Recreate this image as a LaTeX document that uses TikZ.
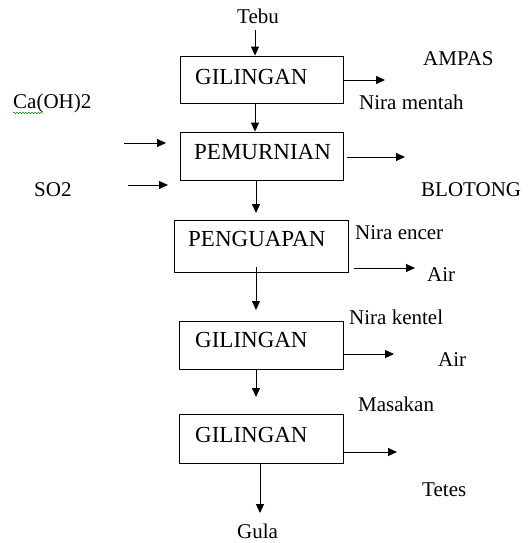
\documentclass[tikz,border=0pt]{standalone}
\usepackage{fontspec}
\setmainfont{Liberation Serif}
\usetikzlibrary{arrows.meta,decorations.pathmorphing}
\begin{document}
\begin{tikzpicture}[x=1pt,y=-1pt,
  box/.style={draw,line width=0.8pt,inner sep=0pt,minimum width=#1},
  boxtxt/.style={anchor=base west,inner sep=0pt,font=\fontsize{23}{27}\selectfont},
  lbl/.style={anchor=base west,inner sep=0pt,font=\fontsize{21}{25}\selectfont},
  arr/.style={line width=0.9pt,-{Triangle[length=9pt,width=8pt]}}]
\useasboundingbox (0,0) rectangle (530,543);
% boxes
\node[box=163pt,minimum height=47pt] (b1) at (261.5,79.5) {};
\node[box=163pt,minimum height=48pt] (b2) at (261.5,156) {};
\node[box=174pt,minimum height=52pt] (b3) at (261,246) {};
\node[box=164pt,minimum height=48pt] (b4) at (261,345) {};
\node[box=164pt,minimum height=49pt] (b5) at (261,438.5) {};
\node[boxtxt] (t1) at (195,84) {GILINGAN};
\node[boxtxt] (t2) at (194,159.3) {PEMURNIAN};
\node[boxtxt] (t3) at (188,246.7) {PENGUAPAN};
\node[boxtxt] (t4) at (195,347.7) {GILINGAN};
\node[boxtxt] (t5) at (195,442.3) {GILINGAN};
% labels
\node[lbl] (tebu) at (237,23.3) {Tebu};
\node[lbl] (ampas) at (423,66) {AMPAS};
\node[lbl] (niram) at (359,109) {Nira mentah};
\node[lbl] (caoh) at (13,108.7) {Ca(OH)2};
\node[lbl] (so2) at (34,196.7) {SO2};
\node[lbl] (blotong) at (421,196.7) {BLOTONG};
\node[lbl] (nirae) at (355,239) {Nira encer};
\node[lbl] (air1) at (427,281) {Air};
\node[lbl] (nirak) at (349,324) {Nira kentel};
\node[lbl] (air2) at (438,366.7) {Air};
\node[lbl] (masakan) at (358,411.7) {Masakan};
\node[lbl] (tetes) at (422,496.7) {Tetes};
\node[lbl] (gula) at (237,538.5) {Gula};
% spell-check underline
\draw[green!60!black,line width=0.5pt,decorate,decoration={snake,amplitude=0.8pt,segment length=3pt}] (13,113) -- (43,113);
% free ends
\coordinate (c0) at (255,30);
\coordinate (r1) at (385,80);
\coordinate (l1a) at (124,143);
\coordinate (l1b) at (166,143);
\coordinate (l2a) at (128,185);
\coordinate (l2b) at (168,185);
\coordinate (r2a) at (347,157);
\coordinate (r2b) at (405,157);
\coordinate (d2) at (256,213);
\coordinate (r3a) at (354,268);
\coordinate (r3b) at (415,268);
\coordinate (d3a) at (256,267);
\coordinate (d3b) at (256,310);
\coordinate (r4) at (394,354);
\coordinate (d4) at (256,397);
\coordinate (r5) at (397,452);
\coordinate (d5) at (260,513);
% connectors
\draw[arr] (c0) -- (c0 |- b1.north);
\draw[arr] (b1.east |- r1) -- (r1);
\draw[arr] (b1.south -| c0) -- (b2.north -| c0);
\draw[arr] (l1a) -- (l1b);
\draw[arr] (l2a) -- (l2b);
\draw[arr] (r2a) -- (r2b);
\draw[arr] (b2.south -| d2) -- (d2);
\draw[arr] (r3a) -- (r3b);
\draw[arr] (d3a) -- (d3b);
\draw[arr] (b4.east |- r4) -- (r4);
\draw[arr] (b4.south -| d4) -- (d4);
\draw[arr] (b5.east |- r5) -- (r5);
\draw[arr] (b5.south -| d5) -- (d5);
\end{tikzpicture}
\end{document}
